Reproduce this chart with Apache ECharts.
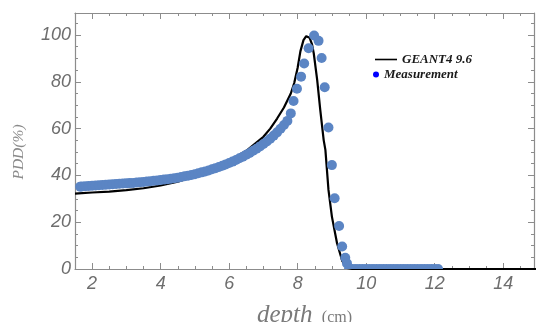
<!DOCTYPE html>
<html>
<head>
<meta charset="utf-8">
<script src="https://cdn.jsdelivr.net/npm/echarts@6/dist/echarts.min.js"></script>
<style>
  html, body { margin: 0; padding: 0; background: #fff; }
  #pdd_chart { width: 536px; height: 322px; }
</style>
</head>
<body>
<div id="pdd_chart"></div>
<script>
// GEANT4 9.6 simulation (depth cm, PDD %)
const simDepth = [1.5, 1.6, 2.0, 2.5, 3.0, 3.5, 4.0, 4.5, 5.0, 5.5, 6.0, 6.5, 7.0, 7.2, 7.4, 7.6, 7.8, 7.9, 8.0, 8.08, 8.17, 8.25, 8.35, 8.42, 8.47, 8.57, 8.66, 8.76, 8.81, 8.9, 9.0, 9.15, 9.3, 9.44, 9.6, 12.0, 15.0];
const simDose = [32.2, 32.3, 32.7, 33.1, 33.7, 34.5, 35.7, 37.3, 39.5, 42.6, 46.3, 50.5, 56.5, 60.0, 64.3, 69.0, 75.0, 79.5, 86.0, 93.0, 97.8, 99.5, 98.8, 96.0, 92.2, 80.8, 68.0, 55.1, 50.9, 33.8, 22.4, 11.0, 3.5, 0.5, 0, 0, 0];

// Measurement (depth cm, PDD %)
const measDepth = [1.65, 1.7, 1.8, 1.9, 2.0, 2.1, 2.2, 2.3, 2.4, 2.5, 2.6, 2.7, 2.8, 2.9, 3.0, 3.1, 3.2, 3.3, 3.4, 3.5,
  3.6, 3.7, 3.8, 3.9, 4.0, 4.1, 4.2, 4.3, 4.4, 4.5, 4.6, 4.7, 4.8, 4.9, 5.0, 5.1, 5.2, 5.3, 5.4, 5.5,
  5.6, 5.7, 5.8, 5.9, 6.0, 6.1, 6.2, 6.3, 6.4, 6.5, 6.6, 6.7, 6.8, 6.9, 7.0, 7.1, 7.2, 7.3, 7.4, 7.5,
  7.6, 7.7, 7.8, 7.88, 7.98, 8.1, 8.19, 8.32, 8.48, 8.61, 8.7, 8.79, 8.9, 9.0, 9.08, 9.21, 9.3, 9.39, 9.44,
  9.5, 9.6, 9.7, 9.8, 9.9, 10.0, 10.1, 10.2, 10.3, 10.4, 10.5, 10.6, 10.7, 10.8, 10.9, 11.0, 11.1, 11.2,
  11.3, 11.4, 11.5, 11.6, 11.7, 11.8, 11.9, 12.0, 12.1];
const measDose = [35.2, 35.3, 35.4, 35.5, 35.6, 35.7, 35.8, 35.9, 36.0, 36.1, 36.2, 36.3, 36.4, 36.5, 36.6, 36.7, 36.8, 37.0, 37.1, 37.2,
  37.4, 37.5, 37.7, 37.8, 38.0, 38.2, 38.4, 38.6, 38.8, 39.0, 39.3, 39.6, 39.9, 40.2, 40.5, 40.9, 41.3, 41.7, 42.1, 42.6,
  43.1, 43.6, 44.1, 44.7, 45.3, 45.9, 46.6, 47.3, 48.0, 48.8, 49.6, 50.5, 51.4, 52.4, 53.4, 54.5, 55.7, 57.0, 58.4, 59.9,
  61.5, 63.3, 66.5, 71.8, 77.0, 82.2, 87.8, 94.3, 99.8, 97.5, 90.2, 77.7, 60.5, 44.4, 30.2, 18.4, 9.6, 4.8, 2.4,
  0, 0, 0, 0, 0, 0, 0, 0, 0, 0, 0, 0, 0, 0, 0, 0, 0, 0,
  0, 0, 0, 0, 0, 0, 0, 0, 0];

const xMin = 1.5, xMax = 14.9;
const yMin = 0, yMax = 109.4;

let myCharts = echarts.init(document.getElementById("pdd_chart"));

const frameColor = "#8c8c8c";
const tickFont = {
  color: "#6e6e6e",
  fontSize: 18,
  fontStyle: "italic",
  fontFamily: "Liberation Sans",
};

// one axis for minor ticks + frame line, one for major ticks + labels
function xPair(pos, withLabels) {
  return [
    {
      type: "value", position: pos, min: xMin, max: xMax, interval: 0.5,
      axisLine: { show: true, onZero: false, lineStyle: { color: frameColor, width: 1.2 } },
      axisTick: { show: true, inside: true, length: 3, lineStyle: { color: frameColor } },
      axisLabel: { show: false },
      splitLine: { show: false },
    },
    {
      type: "value", position: pos, min: xMin, max: xMax, minInterval: 2, maxInterval: 2,
      axisLine: { show: false, onZero: false },
      axisTick: { show: true, inside: true, length: 6, lineStyle: { color: frameColor } },
      axisLabel: Object.assign({ show: withLabels, margin: 6, showMinLabel: false, showMaxLabel: false }, tickFont),
      splitLine: { show: false },
      name: withLabels ? "{a|depth} {b|(cm)}" : "",
      nameLocation: "middle",
      nameGap: 34,
      nameTextStyle: {
        rich: {
          a: { fontFamily: "Liberation Serif", fontStyle: "italic", fontSize: 25, color: "#7a7a7a" },
          b: { fontFamily: "Liberation Serif", fontSize: 16, color: "#7a7a7a", padding: [4, 0, 0, 6] },
        },
      },
    },
  ];
}

function yPair(pos, withLabels) {
  return [
    {
      type: "value", position: pos, min: yMin, max: yMax, interval: 5,
      axisLine: { show: true, lineStyle: { color: frameColor, width: 1.2 } },
      axisTick: { show: true, inside: true, length: 3, lineStyle: { color: frameColor } },
      axisLabel: { show: false },
      splitLine: { show: false },
    },
    {
      type: "value", position: pos, min: yMin, max: yMax, interval: 20,
      axisLine: { show: false },
      axisTick: { show: true, inside: true, length: 6, lineStyle: { color: frameColor } },
      axisLabel: Object.assign({ show: withLabels, margin: 4, showMaxLabel: false }, tickFont),
      splitLine: { show: false },
      name: withLabels ? "PDD(%)" : "",
      nameLocation: "middle",
      nameGap: 48,
      nameTextStyle: {
        fontFamily: "Liberation Serif", fontStyle: "italic", fontSize: 15.5, color: "#8a8a8a",
        padding: [0, 22, 0, 0],
      },
    },
  ];
}

const legendText = {
  fontFamily: "Liberation Serif",
  fontStyle: "italic",
  fontWeight: "bold",
  fontSize: 13,
  color: "#1a1a1a",
};

// points sitting on the floor are cut by the frame, draw them as half discs
const halfDisc = "path://M0,10A10,10 0 0 1 20,10Z";
const measData = measDepth.map((d, i) => {
  if (measDose[i] === 0) {
    return { value: [d, measDose[i]], symbol: halfDisc, symbolSize: [10, 5], symbolOffset: [0, "-50%"] };
  }
  return [d, measDose[i]];
});

let option = {
  animation: false,
  backgroundColor: "#fff",
  grid: { left: 75, right: 2, top: 13, bottom: 53, outerBoundsMode: "none", containLabel: false },
  legend: [
    {
      data: ["GEANT4 9.6"],
      left: 375, top: 53, padding: 0,
      icon: "rect",
      itemWidth: 22, itemHeight: 1.6,
      textStyle: legendText,
    },
    {
      data: [{ name: "Measurement", icon: "circle", itemStyle: { color: "#0000ff" } }],
      left: 373, top: 68, padding: 0,
      itemWidth: 6, itemHeight: 6, itemGap: 0,
      textStyle: legendText,
    },
  ],
  xAxis: [].concat(xPair("bottom", true), xPair("top", false)),
  yAxis: [].concat(yPair("left", true), yPair("right", false)),
  series: [
    {
      name: "GEANT4 9.6",
      type: "line",
      xAxisIndex: 1,
      yAxisIndex: 1,
      data: simDepth.map((d, i) => [d, simDose[i]]),
      symbol: "none",
      clip: true,
      lineStyle: { color: "#000", width: 2.2 },
      itemStyle: { color: "#000" },
      z: 2,
    },
    {
      name: "Measurement",
      type: "scatter",
      xAxisIndex: 1,
      yAxisIndex: 1,
      data: measData,
      symbol: "circle",
      symbolSize: 10,
      clip: true,
      itemStyle: { color: "#5b85c4", opacity: 1 },
      z: 3,
    },
  ],
};

myCharts.setOption(option);
</script>
</body>
</html>
